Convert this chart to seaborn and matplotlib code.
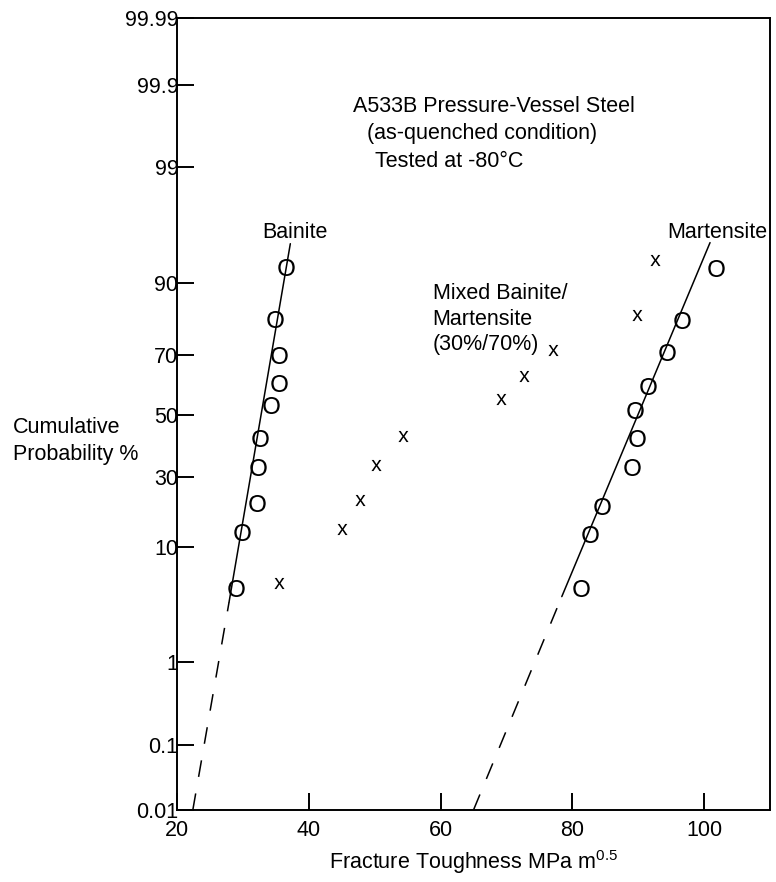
import numpy as np
import pandas as pd
import matplotlib
matplotlib.use("Agg")
import matplotlib.pyplot as plt
import seaborn as sns

# ---------------- data ----------------
bainite_k = [28.95, 29.86, 32.14, 32.33, 32.64, 34.30, 35.41, 35.41, 34.86, 36.53]
bainite_p = [4.5, 12.9, 20.7, 33.0, 42.1, 53.4, 61.0, 70.0, 82.0, 92.6]

martensite_k = [81.27, 82.64, 84.45, 89.00, 89.76, 89.45, 91.42, 94.30, 96.58, 101.73]
martensite_p = [4.5, 12.5, 19.7, 32.9, 42.2, 51.8, 60.1, 71.2, 81.8, 92.5]

mixed_k = [35.52, 45.02, 47.79, 50.17, 54.30, 69.15, 72.71, 77.08, 89.80, 92.48]
mixed_p = [5.0, 13.5, 21.6, 33.6, 43.0, 55.6, 63.4, 71.9, 83.2, 93.5]

# fitted lines: dashed extrapolation + solid part
bainite_fit_dash_k = [22.4, 27.9]
bainite_fit_dash_p = [0.01, 3.4]
bainite_fit_k = [27.9, 37.2]
bainite_fit_p = [3.4, 95.3]

martensite_fit_dash_k = [65.0, 78.4]
martensite_fit_dash_p = [0.01, 3.8]
martensite_fit_k = [78.4, 100.9]
martensite_fit_p = [3.8, 95.4]

x_ticks = [20, 40, 60, 80, 100]
y_ticks = [0.01, 0.1, 1, 10, 30, 50, 70, 90, 99, 99.9, 99.99]
y_tick_labels = ["0.01", "0.1", "1", "10", "30", "50", "70", "90", "99", "99.9", "99.99"]

# probability-paper scale (hand-drawn grid of the original, anchored at the ticks)
SCALE_PROBS = np.array(y_ticks, dtype=float)
SCALE_POS = np.array([0, 65, 148, 263, 333, 395, 455, 527, 643, 725, 792], dtype=float)
SCALE_Z = np.log(SCALE_PROBS / (100.0 - SCALE_PROBS))


def _lin_extrap(x, xp, fp):
    x = np.asarray(x, dtype=float)
    shape = x.shape
    x = np.atleast_1d(x).ravel()
    y = np.interp(x, xp, fp)
    lo = x < xp[0]
    hi = x > xp[-1]
    y[lo] = fp[0] + (x[lo] - xp[0]) * (fp[1] - fp[0]) / (xp[1] - xp[0])
    y[hi] = fp[-1] + (x[hi] - xp[-1]) * (fp[-1] - fp[-2]) / (xp[-1] - xp[-2])
    return y.reshape(shape)


def prob_fwd(p):
    p = np.clip(np.asarray(p, dtype=float), 1e-7, 100 - 1e-7)
    z = np.log(p / (100.0 - p))
    return _lin_extrap(z, SCALE_Z, SCALE_POS)


def prob_inv(v):
    z = _lin_extrap(v, SCALE_POS, SCALE_Z)
    return 100.0 / (1.0 + np.exp(-z))


# ---------------- style ----------------
sns.set_style("white")
plt.rcParams["font.family"] = ["Liberation Sans", "DejaVu Sans"]
plt.rcParams["mathtext.default"] = "regular"
plt.rcParams["text.color"] = "black"
plt.rcParams["axes.labelcolor"] = "black"
plt.rcParams["xtick.color"] = "black"
plt.rcParams["ytick.color"] = "black"
FS = 15.5

fig = plt.figure(figsize=(7.76, 8.82), dpi=100)
ax = fig.add_axes([177 / 776, 72 / 882, 593 / 776, 792 / 882])
ax.set_yscale("function", functions=(prob_fwd, prob_inv))

# fit lines
for k, p, ls in [
    (bainite_fit_dash_k, bainite_fit_dash_p, (0, (11, 11))),
    (bainite_fit_k, bainite_fit_p, "-"),
    (martensite_fit_dash_k, martensite_fit_dash_p, (0, (11, 11))),
    (martensite_fit_k, martensite_fit_p, "-"),
]:
    sns.lineplot(x=k, y=p, ax=ax, color="black", linewidth=1.1,
                 linestyle=ls, sort=False, estimator=None)

# points
pts_o = pd.DataFrame({"K": bainite_k + martensite_k, "P": bainite_p + martensite_p})
pts_x = pd.DataFrame({"K": mixed_k, "P": mixed_p})
sns.scatterplot(data=pts_o, x="K", y="P", ax=ax, marker=r"$\mathregular{O}$",
                s=150, color="black", linewidth=0, zorder=3)
sns.scatterplot(data=pts_x, x="K", y="P", ax=ax, marker=r"$\mathregular{x}$",
                s=64, color="black", linewidth=0, zorder=3)

ax.set_xlim(20, 110)
ax.set_ylim(0.01, 99.99)
ax.set_xticks(x_ticks)
ax.set_xticklabels([str(t) for t in x_ticks])
ax.set_yticks(y_ticks)
ax.set_yticklabels(y_tick_labels)
ax.minorticks_off()

for s in ax.spines.values():
    s.set_visible(True)
    s.set_color("black")
    s.set_linewidth(1.4)

ax.tick_params(axis="both", direction="in", length=12, width=1.4, color="black",
               labelsize=FS, labelcolor="black", bottom=True, left=True,
               top=False, right=False)
ax.tick_params(axis="x", pad=7)
ax.tick_params(axis="y", pad=-1)

ax.set_xlabel("Fracture Toughness MPa m$^{0.5}$", fontsize=FS, labelpad=5,
              color="black")
ax.set_ylabel("")

# annotations (axes fraction)
kw = dict(transform=ax.transAxes, fontsize=FS, color="black", va="baseline", ha="left")
ax.text(0.2968, 0.8817, "A533B Pressure-Vessel Steel", **kw)
ax.text(0.3204, 0.8472, "(as-quenched condition)", **kw)
ax.text(0.3339, 0.8122, "Tested at -80°C", **kw)
ax.text(0.1433, 0.7218, "Bainite", **kw)
ax.text(0.8263, 0.7218, "Martensite", **kw)
ax.text(0.4312, 0.6448, "Mixed Bainite/", **kw)
ax.text(0.4312, 0.6124, "Martensite", **kw)
ax.text(0.4312, 0.5808, "(30%/70%)", **kw)

fig.text(12.7 / 776, (882 - 433.3) / 882, "Cumulative", fontsize=FS,
         va="baseline", ha="left", color="black")
fig.text(12.7 / 776, (882 - 460) / 882, "Probability %", fontsize=FS,
         va="baseline", ha="left", color="black")

fig.savefig("out.png", dpi=100, facecolor="white")
